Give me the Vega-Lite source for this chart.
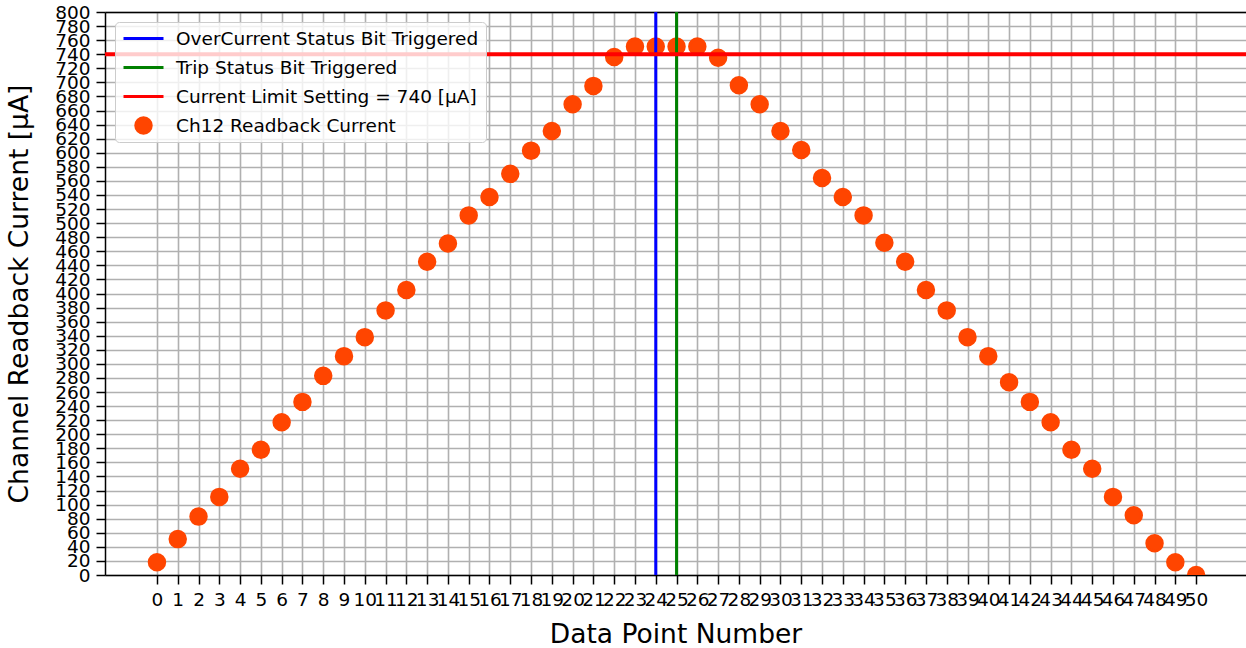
{
  "$schema": "https://vega.github.io/schema/vega-lite/v6.json",
  "width": 1141,
  "height": 563,
  "autosize": {"type": "none"},
  "padding": {"left": 105, "top": 12, "right": 0, "bottom": 73},
  "background": "white",
  "config": {
    "font": "DejaVu Sans",
    "view": {"stroke": null},
    "axis": {
      "domainColor": "black",
      "domainWidth": 1.5,
      "tickColor": "black",
      "tickWidth": 1.5,
      "tickSize": 9,
      "labelColor": "black",
      "labelFont": "DejaVu Sans",
      "labelFontSize": 18.5,
      "labelOverlap": false,
      "labelFlush": false,
      "titleFont": "DejaVu Sans",
      "titleFontSize": 26.5,
      "titleFontWeight": "normal",
      "titleColor": "black",
      "gridColor": "#b0b0b0",
      "gridWidth": 1.6,
      "gridOpacity": 1
    }
  },
  "resolve": {"axis": {"x": "independent"}},
  "layer": [
    {
      "data": {
        "values": [
          {"point": 0, "current": 18, "series": "Ch12 Readback Current"},
          {"point": 1, "current": 51, "series": "Ch12 Readback Current"},
          {"point": 2, "current": 83, "series": "Ch12 Readback Current"},
          {"point": 3, "current": 111, "series": "Ch12 Readback Current"},
          {"point": 4, "current": 151, "series": "Ch12 Readback Current"},
          {"point": 5, "current": 178, "series": "Ch12 Readback Current"},
          {"point": 6, "current": 217, "series": "Ch12 Readback Current"},
          {"point": 7, "current": 246, "series": "Ch12 Readback Current"},
          {"point": 8, "current": 283, "series": "Ch12 Readback Current"},
          {"point": 9, "current": 311, "series": "Ch12 Readback Current"},
          {"point": 10, "current": 338, "series": "Ch12 Readback Current"},
          {"point": 11, "current": 376, "series": "Ch12 Readback Current"},
          {"point": 12, "current": 405, "series": "Ch12 Readback Current"},
          {"point": 13, "current": 445, "series": "Ch12 Readback Current"},
          {"point": 14, "current": 471, "series": "Ch12 Readback Current"},
          {"point": 15, "current": 511, "series": "Ch12 Readback Current"},
          {"point": 16, "current": 537, "series": "Ch12 Readback Current"},
          {"point": 17, "current": 570, "series": "Ch12 Readback Current"},
          {"point": 18, "current": 603, "series": "Ch12 Readback Current"},
          {"point": 19, "current": 631, "series": "Ch12 Readback Current"},
          {"point": 20, "current": 669, "series": "Ch12 Readback Current"},
          {"point": 21, "current": 695, "series": "Ch12 Readback Current"},
          {"point": 22, "current": 736, "series": "Ch12 Readback Current"},
          {"point": 23, "current": 751, "series": "Ch12 Readback Current"},
          {"point": 24, "current": 751, "series": "Ch12 Readback Current"},
          {"point": 25, "current": 751, "series": "Ch12 Readback Current"},
          {"point": 26, "current": 751, "series": "Ch12 Readback Current"},
          {"point": 27, "current": 735, "series": "Ch12 Readback Current"},
          {"point": 28, "current": 696, "series": "Ch12 Readback Current"},
          {"point": 29, "current": 669, "series": "Ch12 Readback Current"},
          {"point": 30, "current": 631, "series": "Ch12 Readback Current"},
          {"point": 31, "current": 604, "series": "Ch12 Readback Current"},
          {"point": 32, "current": 564, "series": "Ch12 Readback Current"},
          {"point": 33, "current": 537, "series": "Ch12 Readback Current"},
          {"point": 34, "current": 511, "series": "Ch12 Readback Current"},
          {"point": 35, "current": 472, "series": "Ch12 Readback Current"},
          {"point": 36, "current": 445, "series": "Ch12 Readback Current"},
          {"point": 37, "current": 405, "series": "Ch12 Readback Current"},
          {"point": 38, "current": 376, "series": "Ch12 Readback Current"},
          {"point": 39, "current": 338, "series": "Ch12 Readback Current"},
          {"point": 40, "current": 311, "series": "Ch12 Readback Current"},
          {"point": 41, "current": 274, "series": "Ch12 Readback Current"},
          {"point": 42, "current": 246, "series": "Ch12 Readback Current"},
          {"point": 43, "current": 217, "series": "Ch12 Readback Current"},
          {"point": 44, "current": 178, "series": "Ch12 Readback Current"},
          {"point": 45, "current": 151, "series": "Ch12 Readback Current"},
          {"point": 46, "current": 111, "series": "Ch12 Readback Current"},
          {"point": 47, "current": 85, "series": "Ch12 Readback Current"},
          {"point": 48, "current": 45, "series": "Ch12 Readback Current"},
          {"point": 49, "current": 18, "series": "Ch12 Readback Current"},
          {"point": 50, "current": 0, "series": "Ch12 Readback Current"}
        ]
      },
      "mark": {"type": "point", "filled": true, "strokeWidth": 3, "opacity": 1, "clip": true},
      "encoding": {
        "x": {
          "field": "point",
          "type": "quantitative",
          "scale": {"domain": [-2.5, 52.4], "nice": false, "zero": false},
          "axis": {
            "orient": "bottom",
            "title": "Data Point Number",
            "values": [0,1,2,3,4,5,6,7,8,9,10,11,12,13,14,15,16,17,18,19,20,21,22,23,24,25,26,27,28,29,30,31,32,33,34,35,36,37,38,39,40,41,42,43,44,45,46,47,48,49,50],
            "grid": true,
            "labelPadding": 6,
            "titlePadding": 13
          }
        },
        "y": {
          "field": "current",
          "type": "quantitative",
          "scale": {"domain": [0, 800], "nice": false, "zero": true},
          "axis": {
            "title": "Channel Readback Current [μA]",
            "values": [0,20,40,60,80,100,120,140,160,180,200,220,240,260,280,300,320,340,360,380,400,420,440,460,480,500,520,540,560,580,600,620,640,660,680,700,720,740,760,780,800],
            "grid": true,
            "labelPadding": 6,
            "titlePadding": 21
          }
        },
        "color": {
          "field": "series",
          "type": "nominal",
          "scale": {
            "domain": ["OverCurrent Status Bit Triggered", "Trip Status Bit Triggered", "Current Limit Setting = 740 [μA]", "Ch12 Readback Current"],
            "range": ["#0000ff", "#008000", "#ff0000", "#ff4500"]
          },
          "legend": {
            "title": null,
            "orient": "none",
            "legendX": 10,
            "legendY": 10,
            "labelFontSize": 18.5,
            "labelFont": "DejaVu Sans",
            "labelColor": "black",
            "labelLimit": 500,
            "labelOffset": 11,
            "symbolOffset": 0,
            "symbolStrokeWidth": 3,
            "clipHeight": 19,
            "rowPadding": 10,
            "padding": 7,
            "fillColor": "rgba(255,255,255,0.8)",
            "strokeColor": "#cccccc",
            "cornerRadius": 4
          }
        },
        "stroke": {
          "field": "series",
          "type": "nominal",
          "scale": {
            "domain": ["OverCurrent Status Bit Triggered", "Trip Status Bit Triggered", "Current Limit Setting = 740 [μA]", "Ch12 Readback Current"],
            "range": ["#0000ff", "#008000", "#ff0000", "#ff4500"]
          }
        },
        "shape": {
          "field": "series",
          "type": "nominal",
          "scale": {
            "domain": ["OverCurrent Status Bit Triggered", "Trip Status Bit Triggered", "Current Limit Setting = 740 [μA]", "Ch12 Readback Current"],
            "range": ["stroke", "stroke", "stroke", "circle"]
          }
        },
        "size": {
          "field": "series",
          "type": "nominal",
          "scale": {
            "type": "ordinal",
            "domain": ["OverCurrent Status Bit Triggered", "Trip Status Bit Triggered", "Current Limit Setting = 740 [μA]", "Ch12 Readback Current"],
            "range": [1600, 1600, 1600, 240]
          }
        }
      }
    },
    {
      "data": {
        "values": [
          {"point": 24, "series": "OverCurrent Status Bit Triggered"},
          {"point": 25, "series": "Trip Status Bit Triggered"}
        ]
      },
      "mark": {"type": "rule", "strokeWidth": 3},
      "encoding": {
        "x": {
          "field": "point",
          "type": "quantitative",
          "axis": {"orient": "top", "labels": false, "ticks": false, "grid": false, "title": null, "domain": true}
        },
        "color": {"field": "series", "type": "nominal", "legend": null}
      }
    },
    {
      "data": {
        "values": [
          {"current": 740, "series": "Current Limit Setting = 740 [μA]"}
        ]
      },
      "mark": {"type": "rule", "strokeWidth": 4},
      "encoding": {
        "y": {
          "field": "current",
          "type": "quantitative",
          "axis": {
            "title": "Channel Readback Current [μA]",
            "values": [0,20,40,60,80,100,120,140,160,180,200,220,240,260,280,300,320,340,360,380,400,420,440,460,480,500,520,540,560,580,600,620,640,660,680,700,720,740,760,780,800],
            "grid": true,
            "labelPadding": 6,
            "titlePadding": 21
          }
        },
        "color": {"field": "series", "type": "nominal", "legend": null}
      }
    }
  ]
}
